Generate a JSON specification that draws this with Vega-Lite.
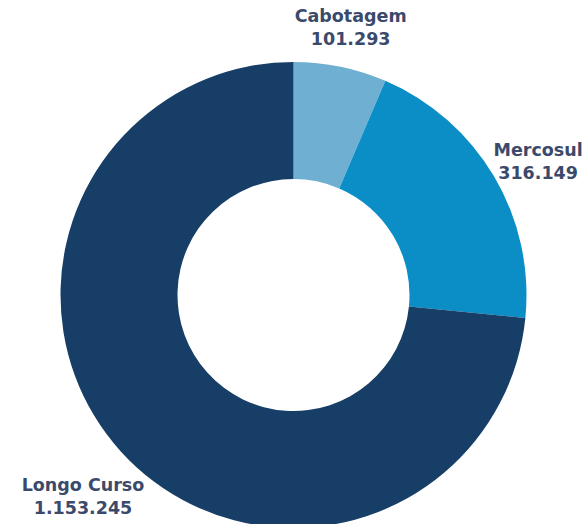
{
  "$schema": "https://vega.github.io/schema/vega-lite/v6.json",
  "width": 587,
  "height": 590,
  "autosize": "none",
  "padding": 0,
  "background": "white",
  "config": {"view": {"stroke": null}, "locale": {"number": {"decimal": ",", "thousands": ".", "grouping": [3], "currency": ["R$", ""]}}},
  "data": {"values": [
    {"category": "Cabotagem", "value": 101293, "order": 1},
    {"category": "Mercosul", "value": 316149, "order": 2},
    {"category": "Longo Curso", "value": 1153245, "order": 3}
  ]},
  "transform": [
    {"calculate": "[datum.category, format(datum.value, ',d')]", "as": "label"}
  ],
  "encoding": {
    "theta": {"field": "value", "type": "quantitative", "stack": true},
    "order": {"field": "order", "type": "ordinal"}
  },
  "layer": [
    {
      "mark": {"type": "arc", "outerRadius": 233, "innerRadius": 116},
      "encoding": {
        "color": {
          "field": "category", "type": "nominal", "legend": null,
          "scale": {"domain": ["Cabotagem", "Mercosul", "Longo Curso"], "range": ["#6fb0d2", "#0b8ec6", "#173e66"]}
        }
      }
    },
    {
      "mark": {"type": "text", "radius": 284, "font": "DejaVu Sans", "fontWeight": "bold", "fontSize": 17.5, "lineHeight": 23, "color": "#3b4a6b", "align": "center", "baseline": "middle"},
      "encoding": {"text": {"field": "label"}}
    }
  ]
}
